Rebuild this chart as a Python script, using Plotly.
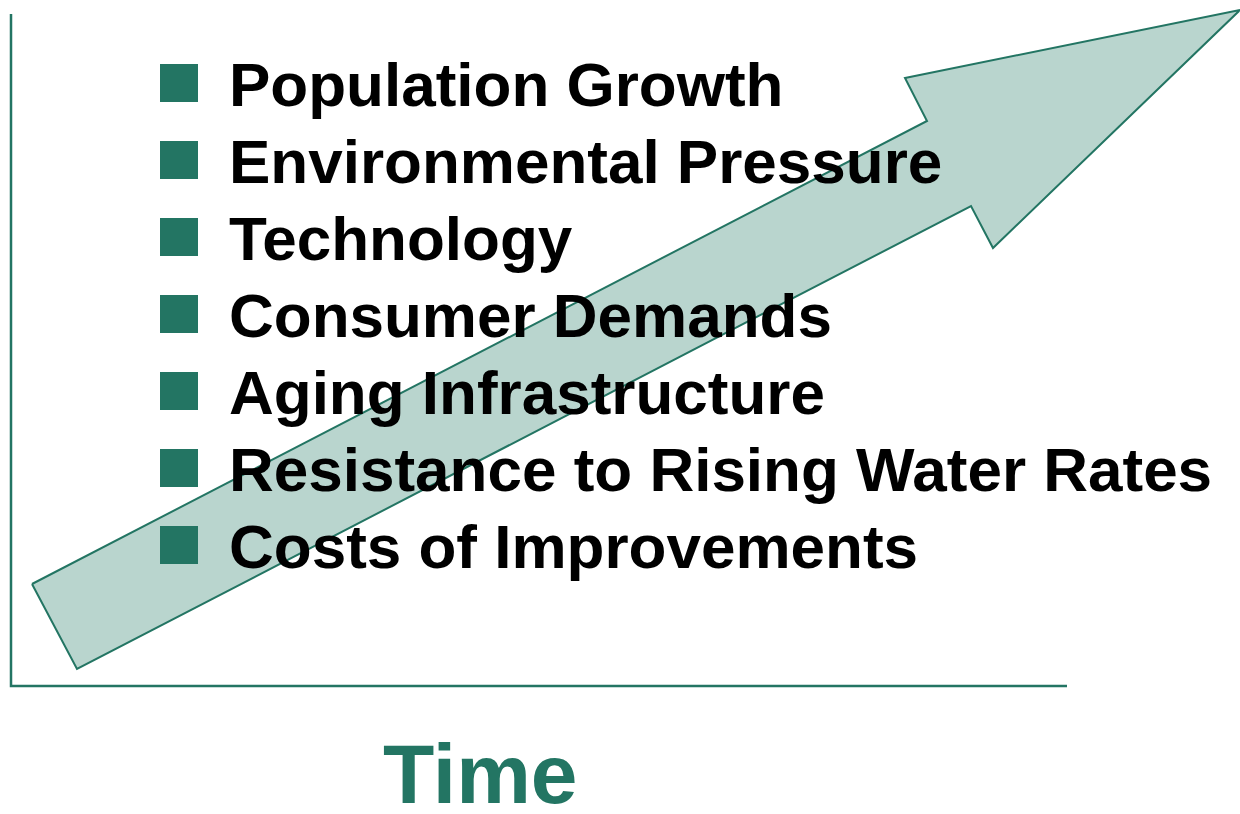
import plotly.graph_objects as go

# ---- data ----
items = [
    "Population Growth",
    "Environmental Pressure",
    "Technology",
    "Consumer Demands",
    "Aging Infrastructure",
    "Resistance to Rising Water Rates",
    "Costs of Improvements",
]
item_rows = [83, 160, 237, 314, 391, 468, 545]          # row centre (px, top-down)
arrow_x = [32, 927, 905, 1240, 993, 971, 77, 32]
arrow_y = [584, 121, 78, 10, 248, 206, 669, 584]
axis_x = [11, 11, 1067]
axis_y = [14, 686, 686]
x_label = "Time"

DARK = "#237563"
LIGHT = "#B9D5CE"

fig = go.Figure()

# axes (L-shape)
fig.add_trace(go.Scatter(x=axis_x, y=axis_y, mode="lines",
                         line=dict(color=DARK, width=2.5), hoverinfo="skip"))

# big arrow
fig.add_trace(go.Scatter(x=arrow_x, y=arrow_y, mode="lines", fill="toself",
                         fillcolor=LIGHT, line=dict(color=DARK, width=2),
                         hoverinfo="skip"))

# bullet squares
fig.add_trace(go.Scatter(x=[179] * len(items), y=item_rows, mode="markers",
                         marker=dict(symbol="square", size=38, color=DARK,
                                     line=dict(width=0)),
                         hoverinfo="skip"))

for label, yc in zip(items, item_rows):
    fig.add_annotation(x=227, y=yc + 1, text=f"<b>{label}</b>", showarrow=False,
                       xanchor="left", yanchor="middle",
                       font=dict(family="Liberation Sans, Arial", size=62,
                                 color="#000000"))

fig.add_annotation(x=480, y=774, text=f"<b>{x_label}</b>", showarrow=False,
                   xanchor="center", yanchor="middle",
                   font=dict(family="Liberation Sans, Arial", size=84, color=DARK))

fig.update_layout(
    width=1240, height=814,
    margin=dict(l=0, r=0, t=0, b=0),
    paper_bgcolor="white", plot_bgcolor="white",
    showlegend=False,
    xaxis=dict(range=[0, 1240], visible=False, fixedrange=True),
    yaxis=dict(range=[814, 0], visible=False, fixedrange=True),
)

fig.write_html("out.html", config={"displayModeBar": False},
               post_script="document.body.style.margin='0';"
                           "document.body.style.padding='0';"
                           "document.body.style.overflow='hidden';")
